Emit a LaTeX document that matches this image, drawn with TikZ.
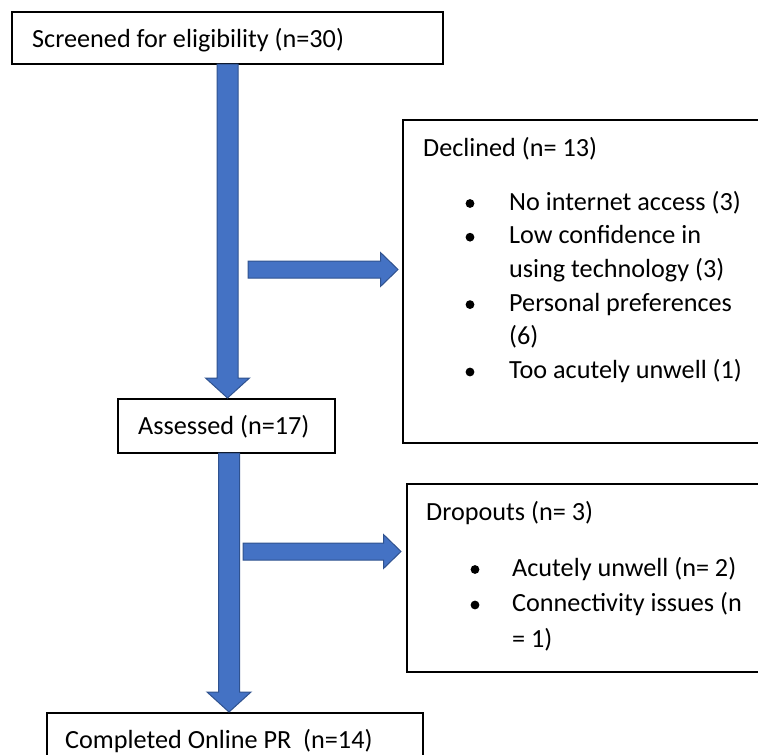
\documentclass[tikz,border=0pt]{standalone}
\usepackage{fontspec}
\setmainfont{Carlito}
\usetikzlibrary{calc}
\definecolor{arrowblue}{HTML}{4472C4}
\definecolor{arrowedge}{HTML}{2F528F}
\newcommand\downblock[2]{%
  \path[blockst] let \p1=(#1), \p2=(#2) in
    (\x1-10.5pt,\y1) -- (\x1+10.5pt,\y1) -- (\x1+10.5pt,\y2+20pt) -- (\x1+22pt,\y2+20pt)
    -- (\x1,\y2) -- (\x1-22pt,\y2+20pt) -- (\x1-10.5pt,\y2+20pt) -- cycle;}
\newcommand\rightblock[2]{%
  \path[blockst] let \p1=(#1), \p2=(#2) in
    (\x1,\y1+8.5pt) -- (\x2-17.5pt,\y1+8.5pt) -- (\x2-17.5pt,\y1+17pt) -- (\x2,\y1)
    -- (\x2-17.5pt,\y1-17pt) -- (\x2-17.5pt,\y1-8.5pt) -- (\x1,\y1-8.5pt) -- cycle;}
\begin{document}
\begin{tikzpicture}[x=1pt,y=1pt,
  boxst/.style={draw=black, line width=1.7pt, fill=white, rectangle, inner sep=0pt, outer sep=0pt, anchor=north west},
  txt/.style={inner sep=0pt, anchor=base west, font=\fontsize{26.2pt}{31pt}\selectfont},
  blockst/.style={fill=arrowblue, draw=arrowedge, line width=1pt, line join=miter},
  dotst/.style={circle, fill=black, inner sep=0pt, minimum size=8.8pt}]
\useasboundingbox (0,0) rectangle (758,-755);
\clip (0,0) rectangle (758,-755);

% boxes
\node[boxst, minimum width=431pt, minimum height=52pt] (screen) at (12,-12) {};
\node[boxst, minimum width=217pt, minimum height=54pt] (assess) at (118,-399) {};
\node[boxst, minimum width=420pt, minimum height=323pt] (declined) at (403,-120) {};
\node[boxst, minimum width=420pt, minimum height=188pt] (dropout) at (407,-484) {};
\node[boxst, minimum width=376pt, minimum height=80pt] (complete) at (47,-713) {};

% arrow end points
\coordinate (a1s) at (screen.south);
\coordinate (a1e) at ($(screen.south |- assess.north)+(0,1)$);
\coordinate (a2s) at ($(assess.south)+(2.5,0)$);
\coordinate (a2e) at ($(a2s |- complete.north)+(0,1)$);
\coordinate (b1s) at (248,-269.5);
\coordinate (b1e) at ($(declined.west |- b1s)+(-5,0)$);
\coordinate (b2s) at (243,-551.5);
\coordinate (b2e) at ($(dropout.west |- b2s)+(-6,0)$);

\downblock{a1s}{a1e}
\downblock{a2s}{a2e}
\rightblock{b1s}{b1e}
\rightblock{b2s}{b2e}

% texts
\node[txt] (t1) at (32,-47) {Screened for eligibility (n=30)};
\node[txt] (t2) at (138,-434) {Assessed (n=17)};
\node[txt] (t3) at (423,-156) {Declined (n= 13)};
\node[txt] (d1) at (509,-210) {No internet access (3)};
\node[txt] (d2) at (509,-243.7) {Low confidence in};
\node[txt] (d3) at (509,-277.4) {using technology (3)};
\node[txt] (d4) at (509,-311.1) {Personal preferences};
\node[txt] (d5) at (509,-344.8) {(6)};
\node[txt] (d6) at (509,-378.5) {Too acutely unwell (1)};
\node[dotst] (bd1) at (470,-203.5) {};
\node[dotst] (bd2) at (470,-237.2) {};
\node[dotst] (bd4) at (470,-304.6) {};
\node[dotst] (bd6) at (470,-372) {};

\node[txt] (t4) at (426,-520) {Dropouts (n= 3)};
\node[txt] (p1) at (512,-576) {Acutely unwell (n= 2)};
\node[txt] (p2) at (512,-611.5) {Connectivity issues (n};
\node[txt] (p3) at (512,-647) {= 1)};
\node[dotst] (bp1) at (475,-569.5) {};
\node[dotst] (bp2) at (475,-605) {};

\node[txt] (t5) at (65,-748) {Completed Online PR\ \ (n=14)};
\end{tikzpicture}
\end{document}
